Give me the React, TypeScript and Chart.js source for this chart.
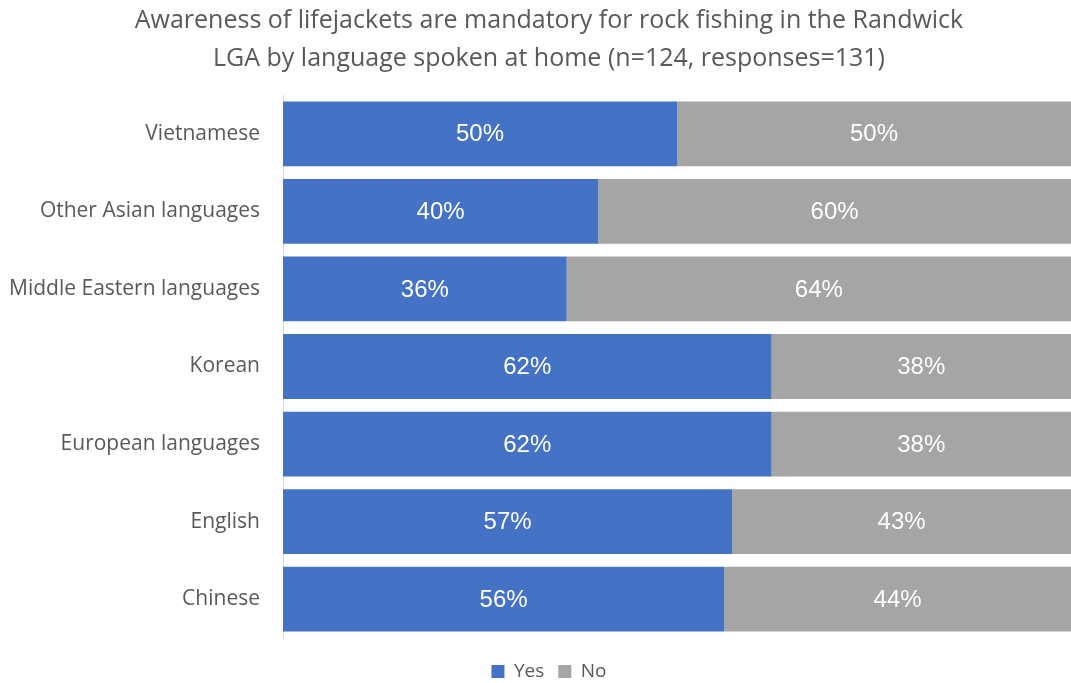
import React, { useEffect, useRef } from "react";
import { Chart, registerables } from "chart.js";

Chart.register(...registerables);

const categories = [
  "Vietnamese",
  "Other Asian languages",
  "Middle Eastern languages",
  "Korean",
  "European languages",
  "English",
  "Chinese",
];
const yesValues = [50, 40, 36, 62, 62, 57, 56];
const noValues = [50, 60, 64, 38, 38, 43, 44];
const titleLines = [
  "Awareness of lifejackets are mandatory for rock fishing in the Randwick",
  "LGA by language spoken at home (n=124, responses=131)",
];

const labelPlugin = {
  id: "barLabels",
  beforeDraw(chart: any) {
    // widen the tick-label clip area so long labels are not cut
    if (chart.scales.y) chart.scales.y.left = 0;
  },
  afterDatasetsDraw(chart: any) {
    const ctx = chart.ctx;
    ctx.save();
    ctx.font = "24px 'Liberation Sans', Arial, sans-serif";
    ctx.fillStyle = "#ffffff";
    ctx.textAlign = "center";
    ctx.textBaseline = "middle";
    chart.data.datasets.forEach((ds: any, di: number) => {
      const meta = chart.getDatasetMeta(di);
      meta.data.forEach((el: any, i: number) => {
        const v = ds.data[i];
        const props = el.getProps(["x", "y", "base"], true);
        const cx = (props.x + props.base) / 2;
        ctx.fillText(v + "%", cx, props.y + 1);
      });
    });
    ctx.restore();
  },
};

const LEFT_PAD = 24;

export default function App() {
  const ref = useRef<HTMLCanvasElement>(null);
  useEffect(() => {
    const chart = new Chart(ref.current!, {
      type: "bar",
      data: {
        labels: categories,
        datasets: [
          { label: "Yes", data: yesValues, backgroundColor: "#4472c4", barPercentage: 0.835, categoryPercentage: 1 },
          { label: "No", data: noValues, backgroundColor: "#a5a5a5", barPercentage: 0.835, categoryPercentage: 1 },
        ],
      },
      options: {
        indexAxis: "y",
        animation: false,
        responsive: false,
        maintainAspectRatio: false,
        layout: { padding: { left: LEFT_PAD, right: -3, top: 0, bottom: -8 } },
        scales: {
          x: { stacked: true, min: 0, max: 100, display: false },
          y: {
            stacked: true,
            grid: { display: false, drawTicks: false },
            border: { display: true, color: "#d9d9d9", width: 1 },
            ticks: {
              color: "#595959",
              padding: 23,
              font: { family: "'Open Sans', sans-serif", size: 21 },
            },
            afterFit(scale: any) {
              scale.width = 283 - LEFT_PAD;
            },
          },
        },
        plugins: {
          title: {
            display: true,
            text: titleLines,
            color: "#595959",
            font: { family: "'Open Sans', sans-serif", size: 25, weight: "normal", lineHeight: 1.52 },
            padding: { top: 2, bottom: 17 },
          },
          legend: {
            position: "bottom",
            title: {
              display: true,
              text: "",
              font: { size: 1, lineHeight: 1 },
              padding: { top: 9, bottom: 0 },
            },
            labels: {
              color: "#595959",
              boxWidth: 13,
              boxHeight: 13,
              font: { family: "'Open Sans', sans-serif", size: 19 },
              padding: 14,
            },
          },
          tooltip: { enabled: false },
        },
      },
      plugins: [labelPlugin],
    });
    return () => chart.destroy();
  }, []);
  return (
    <div style={{ position: "fixed", left: 0, top: 0, width: 1071, height: 683, background: "#fff" }}>
      <canvas ref={ref} width={1071} height={683} />
    </div>
  );
}
